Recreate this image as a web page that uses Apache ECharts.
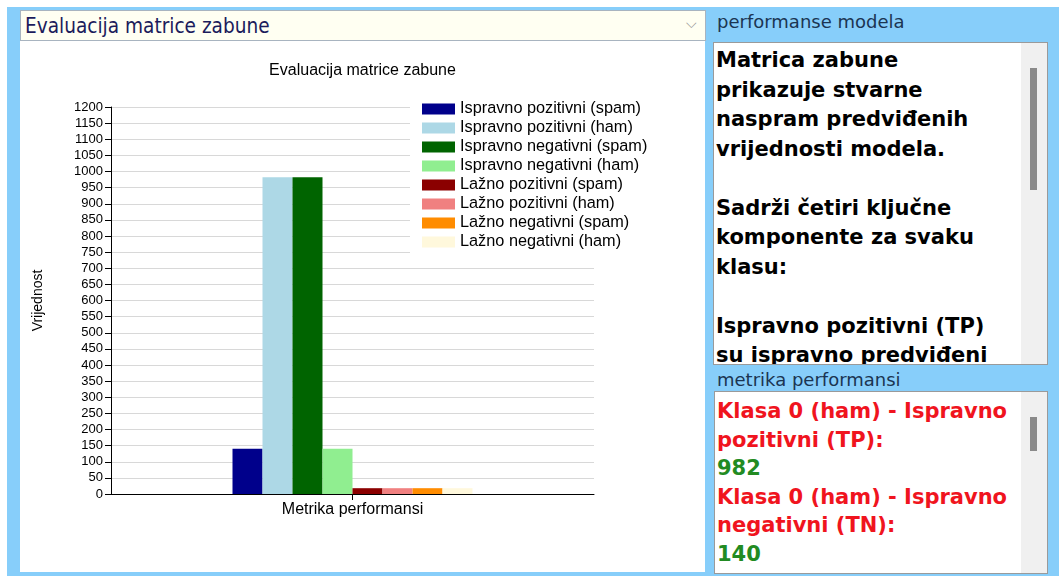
<!DOCTYPE html>
<html>
<head>
<meta charset="utf-8">
<script src="https://cdn.jsdelivr.net/npm/echarts@6/dist/echarts.min.js"></script>
<style>
    body {
        margin: 0;
        width: 1059px;
        height: 576px;
        position: relative;
        overflow: hidden;
        background: #ffffff;
        font-family: "DejaVu Sans", sans-serif;
    }
    .backdrop {
        position: absolute;
        left: 7px;
        top: 7px;
        right: 0;
        bottom: 0;
        background: #87cefa;
    }
    .combo {
        position: absolute;
        left: 20px;
        top: 10px;
        width: 684px;
        height: 29px;
        border: 1px solid #a8b4c0;
        background: #fffff2;
    }
    .combo .txt {
        position: absolute;
        left: 4px;
        top: 3px;
        font-family: "DejaVu Sans Condensed", "DejaVu Sans", sans-serif;
        font-size: 20.6px;
        color: #1c1c5c;
    }
    .combo .arrow {
        position: absolute;
        right: 8px;
        top: 4px;
        font-size: 14px;
        color: #909090;
    }
    #chart {
        position: absolute;
        left: 20px;
        top: 41px;
        width: 685px;
        height: 531px;
        background: #ffffff;
    }
    .lbl {
        position: absolute;
        left: 717px;
        font-size: 18px;
        color: #1b3552;
    }
    .box {
        position: absolute;
        background: #ffffff;
        border: 1px solid #9a9a9a;
        overflow: hidden;
    }
    .box .content {
        position: absolute;
        left: 2px;
        top: 3px;
        font-weight: bold;
        font-size: 21px;
        white-space: pre;
    }
    .track {
        position: absolute;
        right: 0;
        top: 0;
        bottom: 0;
        width: 26px;
        background: #f0f0f0;
    }
    .thumb {
        position: absolute;
        left: 9px;
        width: 7px;
        background: #8a8a8a;
    }
    .red { color: #f0141e; }
    .green { color: #228b22; }
</style>
</head>
<body>
<div class="backdrop"></div>
<div class="combo"><div class="txt">Evaluacija matrice zabune</div><div class="arrow">&#x2335;</div></div>
<div id="chart"></div>

<div class="lbl" style="top: 11px;">performanse modela</div>
<div class="box" style="left: 713px; top: 42px; width: 333px; height: 321px;">
    <div class="content" style="line-height: 29.5px; color: #000;">Matrica zabune
prikazuje stvarne
naspram predviđenih
vrijednosti modela.

Sadrži četiri ključne
komponente za svaku
klasu:

Ispravno pozitivni (TP)
su ispravno predviđeni</div>
    <div class="track"><div class="thumb" style="top: 25px; height: 122px;"></div></div>
</div>

<div class="lbl" style="top: 369px;">metrika performansi</div>
<div class="box" style="left: 714px; top: 391px; width: 332px; height: 181px;">
    <div class="content" style="top: 5px; line-height: 28.5px;"><span class="red">Klasa 0 (ham) - Ispravno
pozitivni (TP):</span>
<span class="green">982</span>
<span class="red">Klasa 0 (ham) - Ispravno
negativni (TN):</span>
<span class="green">140</span></div>
    <div class="track"><div class="thumb" style="top: 25px; height: 34px;"></div></div>
</div>

<script>
const categories = [''];
const seriesNames = [
    'Ispravno pozitivni (spam)',
    'Ispravno pozitivni (ham)',
    'Ispravno negativni (spam)',
    'Ispravno negativni (ham)',
    'Lažno pozitivni (spam)',
    'Lažno pozitivni (ham)',
    'Lažno negativni (spam)',
    'Lažno negativni (ham)'
];
const seriesValues = [140, 982, 982, 140, 18, 18, 18, 18];
const seriesColors = ['#00008b', '#add8e6', '#006400', '#90ee90', '#8b0000', '#f08080', '#ff8c00', '#fff8dc'];

const chartInstance = echarts.init(document.getElementById('chart'));

const series = seriesNames.map((name, i) => ({
    name: name,
    type: 'bar',
    data: [seriesValues[i]],
    barWidth: 30,
    barGap: '0%',
    itemStyle: { color: seriesColors[i] }
}));

const option = {
    animation: false,
    backgroundColor: '#ffffff',
    textStyle: { fontFamily: '"Liberation Sans", Arial, sans-serif' },
    title: {
        text: 'Evaluacija matrice zabune',
        left: 'center',
        top: 17,
        textStyle: { fontSize: 16, fontWeight: 'normal', color: '#000' }
    },
    legend: {
        data: seriesNames,
        orient: 'vertical',
        left: 390,
        top: 52,
        padding: [8, 10, 6, 12],
        backgroundColor: '#ffffff',
        itemWidth: 33,
        itemHeight: 11,
        itemGap: 3,
        icon: 'rect',
        textStyle: { fontSize: 16.3, color: '#000', lineHeight: 16 }
    },
    grid: {
        left: 91,
        right: 111,
        top: 66,
        bottom: 78
    },
    xAxis: {
        type: 'category',
        data: categories,
        name: 'Metrika performansi',
        nameLocation: 'middle',
        nameGap: 8,
        nameTextStyle: { fontSize: 16, color: '#000' },
        axisLine: { lineStyle: { color: '#000', width: 1 } },
        axisTick: { show: true, alignWithLabel: true, length: 6, lineStyle: { color: '#000' } },
        axisLabel: { show: true, margin: 0, formatter: () => '' }
    },
    yAxis: {
        type: 'value',
        min: 0,
        max: 1200,
        interval: 50,
        name: 'Vrijednost',
        nameLocation: 'middle',
        nameGap: 66,
        nameTextStyle: { fontSize: 14, color: '#000' },
        axisLine: { show: true, lineStyle: { color: '#000', width: 1 } },
        axisTick: { show: true, length: 6, lineStyle: { color: '#000' } },
        axisLabel: { fontSize: 13, color: '#000', margin: 8, formatter: v => String(v) },
        splitLine: { lineStyle: { color: '#d8d8d8', width: 1 } }
    },
    series: series
};

chartInstance.setOption(option);
</script>
</body>
</html>
